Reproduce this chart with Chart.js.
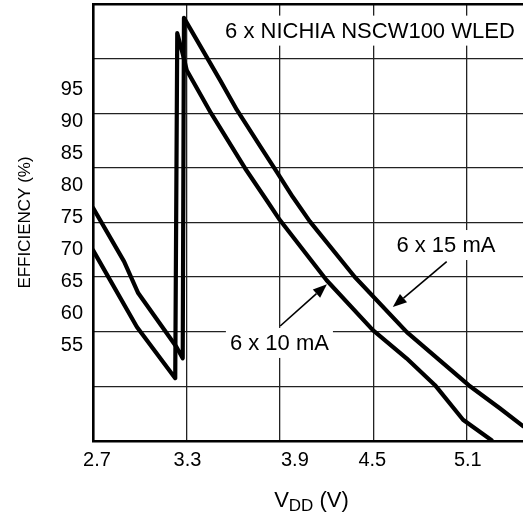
<!DOCTYPE html>
<html><head><meta charset="utf-8">
<script src="https://cdn.jsdelivr.net/npm/chart.js@4"></script>
<style>html,body{margin:0;padding:0;background:#fff;}canvas{display:block;}</style>
</head><body>
<canvas id="c" width="523" height="519"></canvas>
<script>
// ---- data ----
const xTickValues = [2.7, 3.3, 3.9, 4.5, 5.1];
const xTickLabels = ['2.7', '3.3', '3.9', '4.5', '5.1'];
const yTickValues = [55, 60, 65, 70, 75, 80, 85, 90, 95];
const seriesNames = ['6 x 10 mA', '6 x 15 mA'];
const noteText = '6 x NICHIA NSCW100 WLED';

const vdd10 = [2.70, 2.982, 3.228, 3.241, 3.278, 3.302, 3.458, 3.676, 3.815, 3.90, 4.20, 4.497, 4.713, 4.896, 5.076, 5.259];
const eff10 = [69.9, 57.9, 49.9, 103.8, 100.4, 98.0, 91.3, 82.7, 77.7, 74.6, 65.2, 57.4, 53.0, 48.8, 43.4, 40.2];
const vdd15 = [2.70, 2.90, 2.99, 3.235, 3.276, 3.284, 3.515, 3.624, 3.772, 3.881, 3.983, 4.092, 4.381, 4.715, 5.112, 5.312, 5.461];
const eff15 = [76.5, 68.1, 63.2, 54.8, 53.0, 106.2, 96.5, 91.8, 86.2, 82.1, 78.2, 74.4, 65.7, 57.1, 48.8, 45.2, 42.4];

// ---- layout / style ----
const FONT = '"Liberation Sans", Arial, Helvetica, sans-serif';
Chart.defaults.font.family = FONT;
Chart.defaults.color = '#000';
const labelNudgePx = [4, 1, 15, -1, 1];
const pts = (xs, ys) => xs.map((v, i) => ({x: v, y: ys[i]}));
const noPad = s => { s.paddingTop = 0; s.paddingBottom = 0; s.paddingLeft = 0; s.paddingRight = 0; };

const annotPlugin = {
  id: 'annot',
  beforeDatasetsDraw(chart) {
    const {ctx, scales: {x, y}} = chart;
    ctx.save();
    ctx.font = '22px ' + FONT;
    ctx.textAlign = 'center';
    ctx.textBaseline = 'middle';
    const notes = [
      {t: noteText, vx: 4.478, vy: 104.2},
      {t: seriesNames[1], vx: 4.966, vy: 70.7},
      {t: seriesNames[0], vx: 3.897, vy: 55.4}
    ];
    notes.forEach(n => {
      const px = x.getPixelForValue(n.vx), py = y.getPixelForValue(n.vy);
      const w = ctx.measureText(n.t).width;
      ctx.fillStyle = '#fff';
      ctx.fillRect(px - w / 2 - 4, py - 15, w + 8, 30);
      ctx.fillStyle = '#000';
      ctx.fillText(n.t, px, py + 1);
    });
    const arrows = [
      {x1: 4.971, y1: 68.1, x2: 4.625, y2: 61.0},
      {x1: 3.902, y1: 58.05, x2: 4.202, y2: 64.56}
    ];
    arrows.forEach(a => {
      const X1 = x.getPixelForValue(a.x1), Y1 = y.getPixelForValue(a.y1);
      const X2 = x.getPixelForValue(a.x2), Y2 = y.getPixelForValue(a.y2);
      const ang = Math.atan2(Y2 - Y1, X2 - X1);
      const L = 14, W = 5.5;
      const bx = X2 - L * Math.cos(ang), by = Y2 - L * Math.sin(ang);
      ctx.strokeStyle = '#000';
      ctx.lineWidth = 1.6;
      ctx.beginPath(); ctx.moveTo(X1, Y1); ctx.lineTo(bx, by); ctx.stroke();
      ctx.fillStyle = '#000';
      ctx.beginPath();
      ctx.moveTo(X2, Y2);
      ctx.lineTo(bx + W * Math.sin(ang), by - W * Math.cos(ang));
      ctx.lineTo(bx - W * Math.sin(ang), by + W * Math.cos(ang));
      ctx.closePath(); ctx.fill();
    });
    ctx.restore();
  },
  afterDraw(chart) {
    const ctx = chart.ctx;
    ctx.save();
    ctx.fillStyle = '#000';
    ctx.textBaseline = 'alphabetic';
    ctx.textAlign = 'left';
    const big = '22px ' + FONT, small = '17px ' + FONT;
    ctx.font = big; const w1 = ctx.measureText('V').width; const w3 = ctx.measureText(' (V)').width;
    ctx.font = small; const w2 = ctx.measureText('DD').width;
    let sx = 311.5 - (w1 + w2 + w3) / 2;
    const base = 507;
    ctx.font = big; ctx.fillText('V', sx, base); sx += w1;
    ctx.font = small; ctx.fillText('DD', sx, base + 4); sx += w2;
    ctx.font = big; ctx.fillText(' (V)', sx, base);
    ctx.restore();
  }
};

new Chart(document.getElementById('c'), {
  type: 'line',
  data: {
    datasets: [
      {label: seriesNames[0], data: pts(vdd10, eff10)},
      {label: seriesNames[1], data: pts(vdd15, eff15)}
    ]
  },
  options: {
    responsive: false,
    animation: false,
    devicePixelRatio: 1,
    layout: {padding: {top: 4, right: 0, left: 0, bottom: 0}},
    elements: {
      line: {borderColor: '#000', borderWidth: 4.2, tension: 0, borderJoinStyle: 'round', borderCapStyle: 'round', fill: false},
      point: {radius: 0, hoverRadius: 0}
    },
    plugins: {legend: {display: false}, tooltip: {enabled: false}, title: {display: false}},
    scales: {
      x: {
        type: 'linear', position: 'bottom', min: 2.7, max: 5.461,
        afterBuildTicks: s => { s.ticks = xTickValues.map(v => ({value: v})); },
        afterFit: s => { s.height = 0; noPad(s); },
        ticks: {display: false},
        grid: {display: true, color: '#222', lineWidth: 1.3, drawTicks: false},
        border: {display: true, color: '#000', width: 2.6}
      },
      xl: {
        type: 'linear', position: 'bottom', min: 2.7, max: 5.461,
        afterBuildTicks: s => { s.ticks = xTickValues.map((v, i) => ({value: v + labelNudgePx[i] * 0.6 / 93.5})); },
        afterFit: s => { s.height = 78; noPad(s); },
        ticks: {font: {size: 20}, padding: 7, maxRotation: 0, autoSkip: false,
                callback: (v, i) => xTickLabels[i]},
        grid: {display: false, drawTicks: false},
        border: {display: false}
      },
      y: {
        type: 'linear', position: 'left', min: 40.08, max: 108.36,
        afterBuildTicks: s => { s.ticks = yTickValues.map(v => ({value: v})); },
        afterFit: s => { s.width = 93; noPad(s); },
        ticks: {font: {size: 20}, padding: 10, callback: v => String(v)},
        grid: {display: false, drawTicks: false},
        border: {display: true, color: '#000', width: 2.6},
        title: {display: true, text: 'EFFICIENCY (%)', font: {size: 17}, padding: {top: 15, bottom: 0}, color: '#000'}
      },
      yg: {
        type: 'linear', position: 'left', min: 0, max: 8,
        afterBuildTicks: s => { s.ticks = [0,1,2,3,4,5,6,7,8].map(v => ({value: v})); },
        afterFit: s => { s.width = 0; noPad(s); },
        ticks: {display: false},
        grid: {display: true, drawTicks: false,
               color: c => (c.tick && c.tick.value === 8) ? '#000' : '#222',
               lineWidth: c => (c.tick && c.tick.value === 8) ? 2.6 : 1.3},
        border: {display: false}
      }
    }
  },
  plugins: [annotPlugin]
});
</script>
</body></html>
